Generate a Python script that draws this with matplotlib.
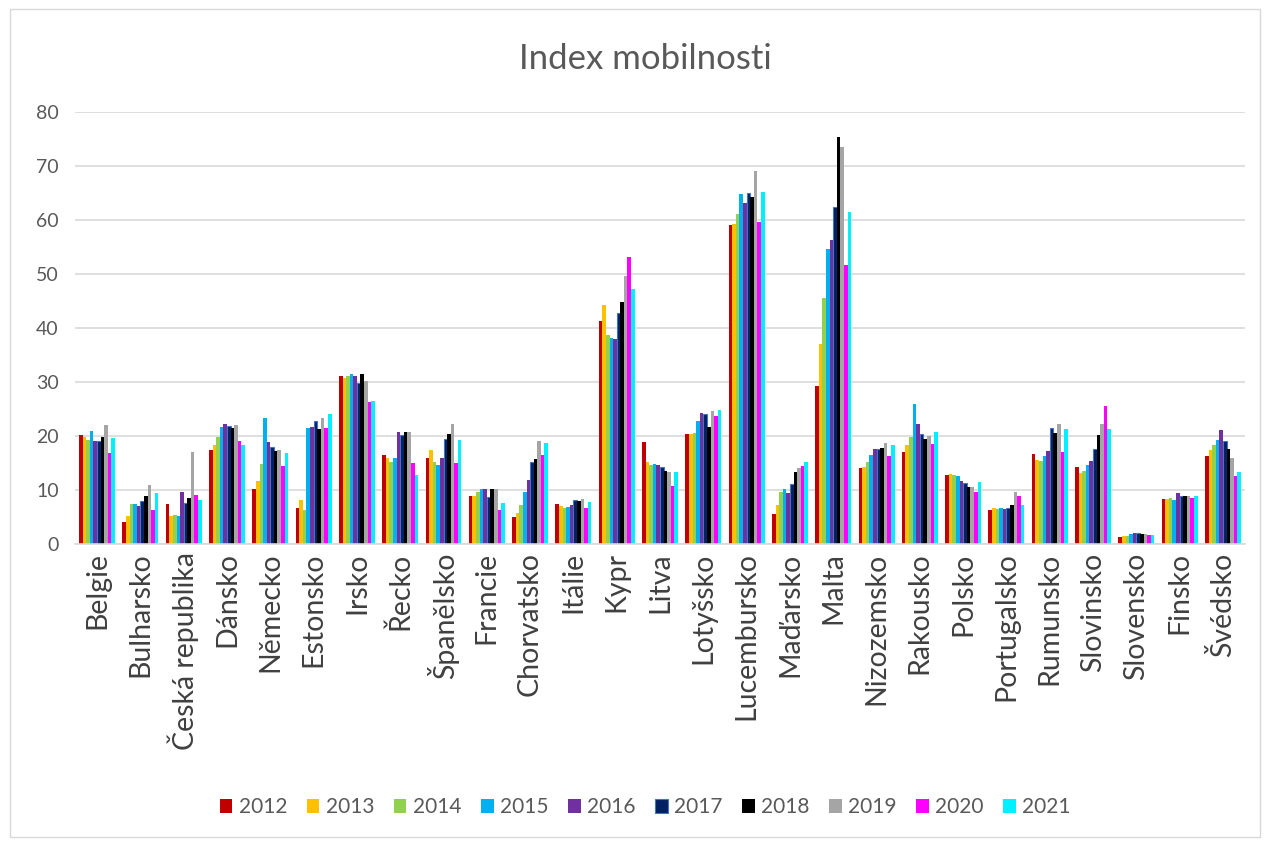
import numpy as np
import matplotlib
matplotlib.use("Agg")
import matplotlib.pyplot as plt
from matplotlib.patches import Rectangle

countries = ["Belgie", "Bulharsko", "Česká republika", "Dánsko", "Německo", "Estonsko",
             "Irsko", "Řecko", "Španělsko", "Francie", "Chorvatsko", "Itálie", "Kypr",
             "Litva", "Lotyšsko", "Lucembursko", "Maďarsko", "Malta", "Nizozemsko",
             "Rakousko", "Polsko", "Portugalsko", "Rumunsko", "Slovinsko", "Slovensko",
             "Finsko", "Švédsko"]
years = ["2012", "2013", "2014", "2015", "2016", "2017", "2018", "2019", "2020", "2021"]

# values per country, one entry per year 2012..2021
belgie = [20.1, 19.9, 19.3, 20.9, 19.0, 19.1, 19.8, 22.0, 16.9, 19.6]
bulharsko = [4.1, 5.1, 7.4, 7.4, 7.1, 8.0, 8.8, 10.9, 6.2, 9.4]
ceska = [7.4, 5.1, 5.4, 5.1, 9.7, 7.5, 8.6, 17.0, 9.1, 8.2]
dansko = [17.4, 18.4, 19.9, 21.6, 22.2, 21.8, 21.5, 22.0, 19.0, 18.3]
nemecko = [10.2, 11.7, 14.8, 23.4, 18.8, 18.0, 17.2, 17.4, 14.5, 16.9]
estonsko = [6.7, 8.1, 6.3, 21.5, 21.7, 22.8, 21.2, 23.4, 21.5, 24.0]
irsko = [31.1, 30.7, 31.1, 31.5, 31.1, 29.9, 31.4, 30.1, 26.2, 26.5]
recko = [16.4, 15.9, 15.1, 15.9, 20.7, 20.1, 20.7, 20.8, 15.0, 12.7]
spanelsko = [15.9, 17.4, 15.1, 14.6, 15.9, 19.4, 20.3, 22.3, 15.0, 19.2]
francie = [8.8, 8.8, 9.6, 10.2, 10.2, 8.7, 10.2, 10.2, 6.2, 7.5]
chorvatsko = [5.0, 5.8, 7.3, 9.7, 11.9, 15.1, 15.8, 19.0, 16.5, 18.7]
italie = [7.4, 7.1, 6.6, 6.9, 7.3, 8.2, 8.0, 8.4, 6.6, 7.8]
kypr = [41.3, 44.3, 38.7, 38.1, 38.0, 42.8, 44.9, 49.7, 53.2, 47.3]
litva = [18.8, 15.1, 14.6, 14.8, 14.6, 14.2, 13.6, 13.3, 10.8, 13.4]
lotyssko = [20.3, 20.4, 20.6, 22.7, 24.3, 24.0, 21.7, 24.7, 23.7, 24.9]
lucembursko = [59.0, 59.3, 61.2, 64.8, 63.1, 65.0, 64.2, 69.0, 59.7, 65.2]
madarsko = [5.6, 7.3, 9.7, 10.2, 9.4, 11.1, 13.4, 14.0, 14.5, 15.1]
malta = [29.3, 37.1, 45.6, 54.7, 56.3, 62.5, 75.4, 73.6, 51.7, 61.4]
nizozemsko = [14.0, 14.3, 15.2, 16.4, 17.6, 17.6, 17.7, 18.7, 16.3, 18.4]
rakousko = [17.1, 18.3, 19.9, 25.9, 22.2, 20.4, 19.5, 20.0, 18.6, 20.7]
polsko = [12.8, 13.0, 12.8, 12.5, 11.6, 11.3, 10.5, 10.6, 9.6, 11.5]
portugalsko = [6.2, 6.7, 6.5, 6.7, 6.5, 6.7, 7.2, 9.7, 8.9, 7.3]
rumunsko = [16.7, 15.6, 15.3, 16.3, 17.3, 21.4, 20.5, 22.3, 17.1, 21.3]
slovinsko = [14.2, 13.1, 13.6, 14.6, 15.4, 17.6, 20.2, 22.2, 25.6, 21.2]
slovensko = [1.3, 1.4, 1.5, 1.8, 2.0, 2.0, 1.9, 1.8, 1.6, 1.6]
finsko = [8.3, 8.4, 8.5, 8.1, 9.5, 8.9, 8.9, 8.9, 8.6, 8.9]
svedsko = [16.2, 17.4, 18.4, 19.3, 21.1, 19.0, 17.6, 15.9, 12.6, 13.3]

table = np.array([belgie, bulharsko, ceska, dansko, nemecko, estonsko, irsko, recko,
                  spanelsko, francie, chorvatsko, italie, kypr, litva, lotyssko,
                  lucembursko, madarsko, malta, nizozemsko, rakousko, polsko,
                  portugalsko, rumunsko, slovinsko, slovensko, finsko, svedsko])

colors = ["#C00000", "#FFC000", "#92D050", "#00B0F0", "#7030A0",
          "#002060", "#000000", "#A5A5A5", "#FF00FF", "#00F0FF"]
edges = [None] * 10
edges[5] = "#4472C4"

plt.rcParams["font.family"] = ["Lato", "DejaVu Sans"]
text_col = "#595959"

fig = plt.figure(figsize=(12.7, 8.41), dpi=100)
ax = fig.add_axes([0.0594, 0.3532, 0.9206, 0.5136])

x = np.arange(len(countries))
group_w = 0.83
bw = group_w / len(years)
for i, yr in enumerate(years):
    pos = x - group_w / 2 + bw * (i + 0.5)
    kw = {}
    if edges[i]:
        kw = dict(edgecolor=edges[i], linewidth=0.8)
    ax.bar(pos, table[:, i], width=bw, color=colors[i], label=yr, **kw)

ax.set_xlim(-0.5, len(countries) - 0.5)
ax.set_ylim(0, 80)
ax.set_yticks(range(0, 81, 10))
ax.yaxis.grid(True, color="#D9D9D9", linewidth=1.2)
ax.set_axisbelow(True)
for s in ["top", "right", "left"]:
    ax.spines[s].set_visible(False)
ax.spines["bottom"].set_color("#D9D9D9")
ax.spines["bottom"].set_linewidth(1.2)
ax.tick_params(axis="y", length=0, labelsize=14, colors=text_col, pad=12)
ax.tick_params(axis="x", length=0, labelsize=20.5, colors="#404040", pad=6)
ax.set_xticks(x)
ax.set_xticklabels(countries, rotation=90)

fig.text(0.508, 0.93, "Index mobilnosti", ha="center", va="center",
         fontsize=25, color=text_col)

leg = fig.legend(loc="center", bbox_to_anchor=(0.508, 0.04), ncol=10, frameon=False,
                 fontsize=15, handlelength=0.6, handleheight=0.6, handletextpad=0.3,
                 columnspacing=0.95)
for t in leg.get_texts():
    t.set_color(text_col)

fig.patches.append(Rectangle((0.008, 0.005), 0.984, 0.984, transform=fig.transFigure,
                             fill=False, edgecolor="#D9D9D9", linewidth=1))

fig.savefig("out.png", dpi=100)
